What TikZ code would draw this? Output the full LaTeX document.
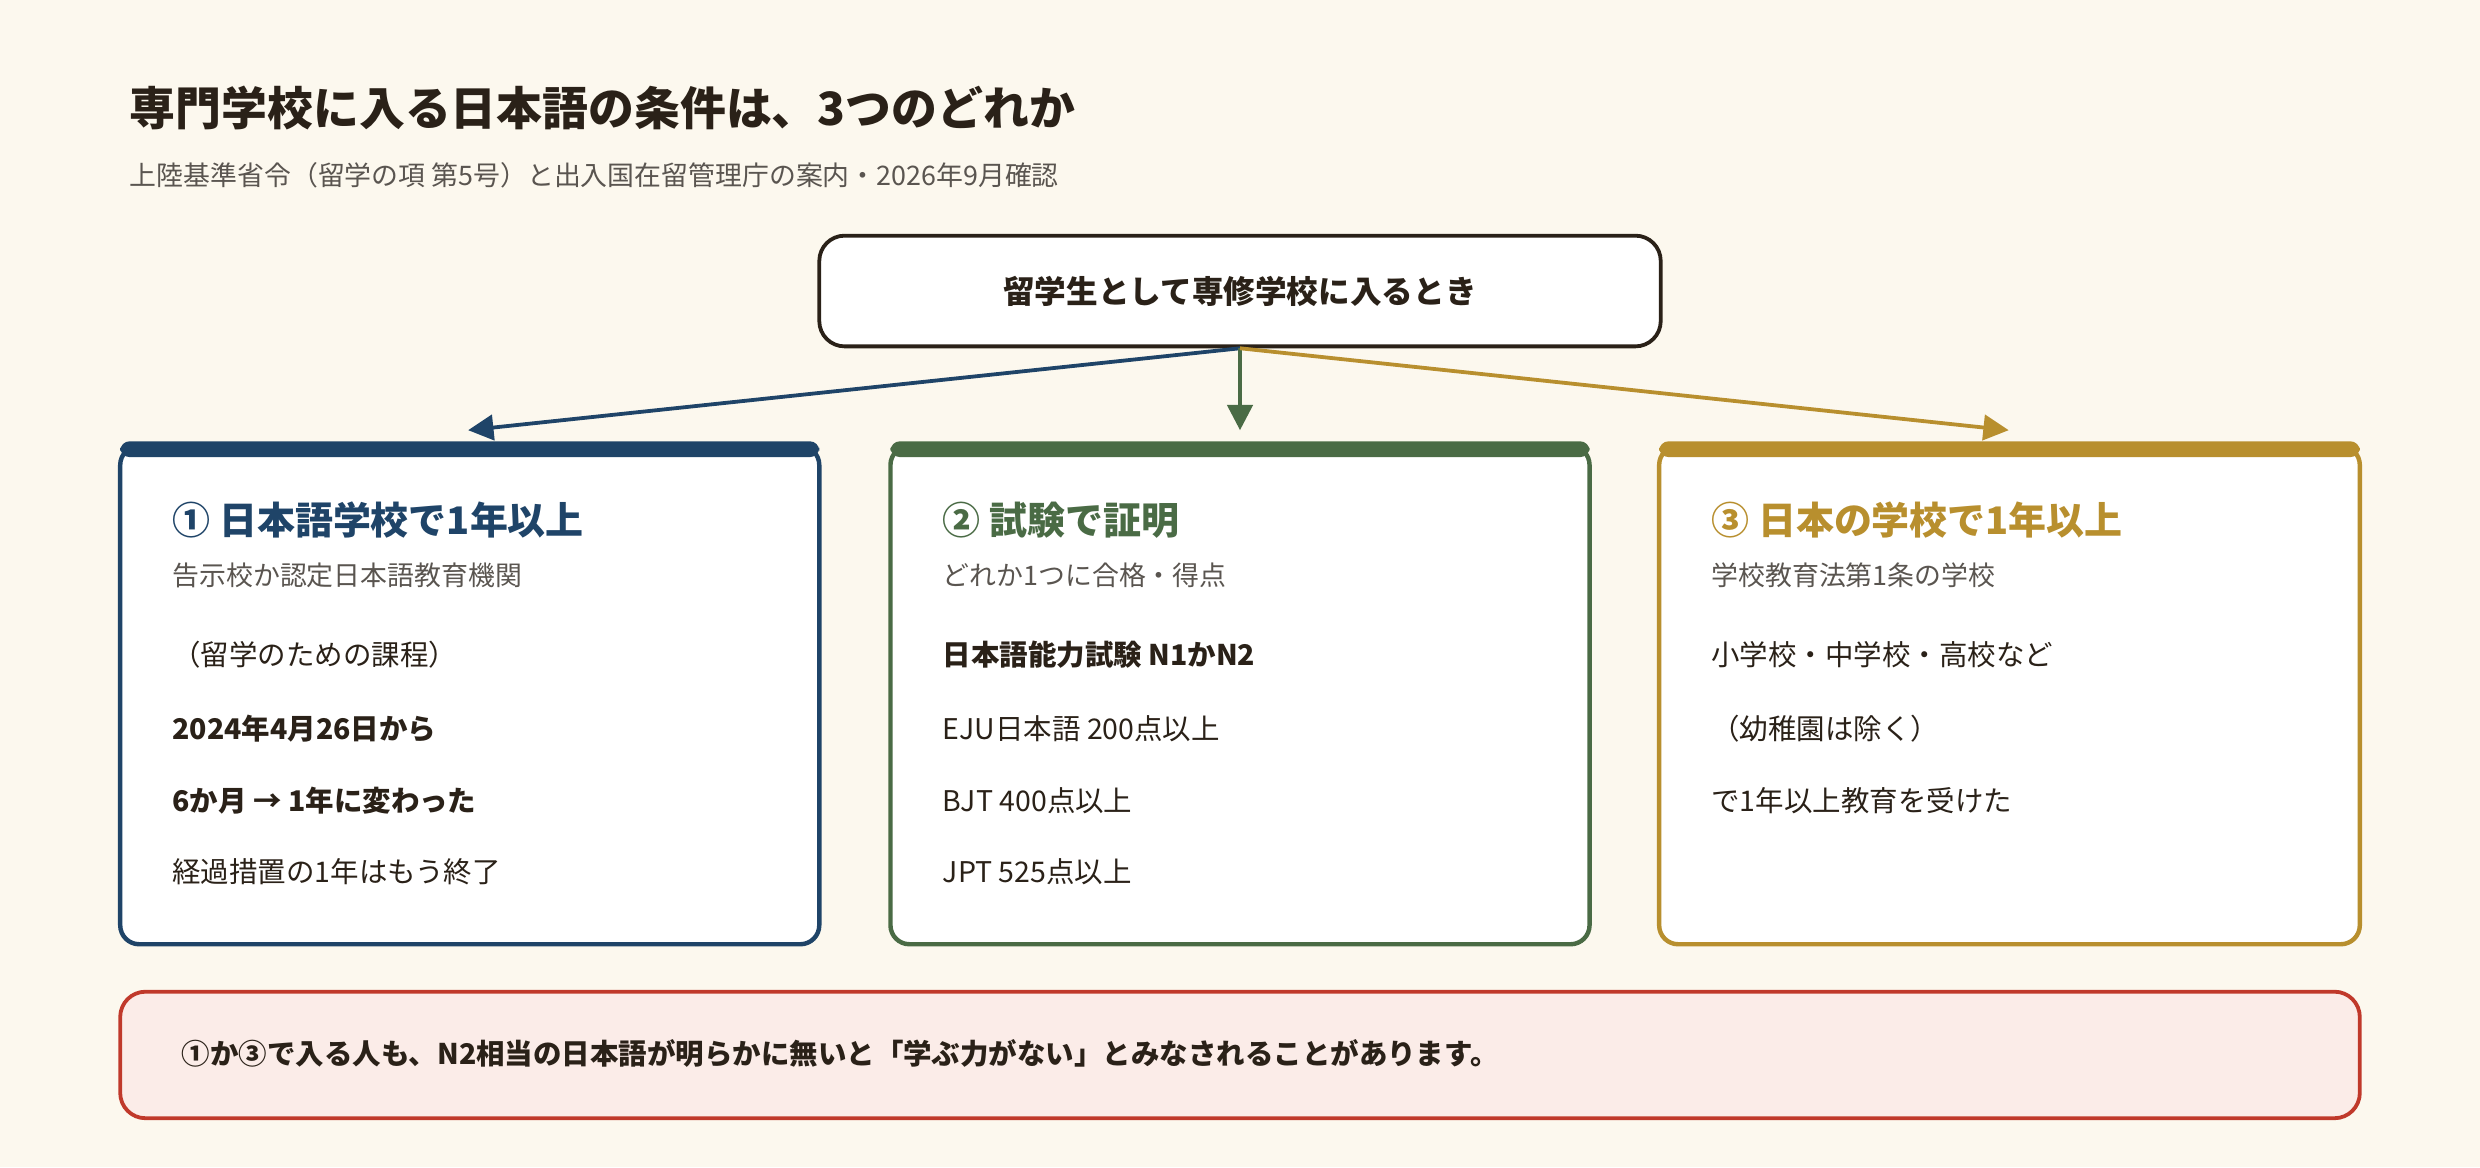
\documentclass[tikz,border=0pt]{standalone}
\usepackage{fontspec}
\setmainfont{Noto Sans CJK JP}
\usetikzlibrary{arrows.meta}
\definecolor{bg}{HTML}{FCF8EE}
\definecolor{cb}{HTML}{1F4468}
\definecolor{cg}{HTML}{4A6B45}
\definecolor{cy}{HTML}{B88F2E}
\definecolor{cr}{HTML}{C0392B}
\definecolor{pk}{HTML}{FBECE8}
\definecolor{tx}{HTML}{2A2118}
\definecolor{gr}{HTML}{5A5550}
\tikzset{
 card/.style={draw=#1,line width=1.4pt,rounded corners=6pt,fill=white},
 bar/.style={fill=#1,rounded corners=3pt},
 head/.style={anchor=west,font=\fontsize{12}{14}\selectfont\bfseries,text=#1},
 sub/.style={anchor=west,font=\fontsize{8.5}{10}\selectfont,text=gr},
 ln/.style={anchor=west,font=\fontsize{9}{11}\selectfont,text=tx},
 arr/.style={draw=#1,line width=1.2pt,-{Triangle[length=8pt,width=8pt]}},
}
\begin{document}
\begin{tikzpicture}[x=0.5pt,y=-0.5pt]
\fill[bg] (0,0) rectangle (1568,738);
\useasboundingbox (0,0) rectangle (1568,738);
\node[anchor=west,font=\fontsize{14.5}{17}\selectfont\bfseries,text=tx] (title) at (75,68) {専門学校に入る日本語の条件は、3つのどれか};
\node[anchor=west,font=\fontsize{8.5}{10}\selectfont,text=gr] (subt) at (75,111) {上陸基準省令（留学の項 第5号）と出入国在留管理庁の案内・2026年9月確認};
\node[draw=tx,line width=1.2pt,rounded corners=8pt,fill=white,minimum width=266pt,minimum height=35pt,font=\fontsize{10}{12}\selectfont\bfseries,text=tx] (top) at (784,184) {留学生として専修学校に入るとき};
\coordinate (t1) at (296,272);
\coordinate (t2) at (784,272);
\coordinate (t3) at (1270,272);
\draw[arr=cb] (top.south) -- (t1);
\draw[arr=cg] (top.south) -- (t2);
\draw[arr=cy] (top.south) -- (t3);
% cards
\draw[card=cb] (76,282) rectangle (518,597);
\fill[bar=cb] (76,279) rectangle (518,289);
\draw[card=cg] (563,282) rectangle (1005,597);
\fill[bar=cg] (563,279) rectangle (1005,289);
\draw[card=cy] (1049,282) rectangle (1492,597);
\fill[bar=cy] (1049,279) rectangle (1492,289);
% card 1
\node[head=cb] (h1) at (102,329) {① 日本語学校で1年以上};
\node[sub] (s1) at (102,364) {告示校か認定日本語教育機関};
\node[ln] (a1) at (102,414) {（留学のための課程）};
\node[ln,font=\fontsize{9}{11}\selectfont\bfseries] (a2) at (102,461) {2024年4月26日から};
\node[ln,font=\fontsize{9}{11}\selectfont\bfseries] (a3) at (102,506) {6か月 → 1年に変わった};
\node[ln] (a4) at (102,551) {経過措置の1年はもう終了};
% card 2
\node[head=cg] (h2) at (589,329) {② 試験で証明};
\node[sub] (s2) at (589,364) {どれか1つに合格・得点};
\node[ln,font=\fontsize{9}{11}\selectfont\bfseries] (b1) at (589,414) {日本語能力試験 N1かN2};
\node[ln] (b2) at (589,461) {EJU日本語 200点以上};
\node[ln] (b3) at (589,506) {BJT 400点以上};
\node[ln] (b4) at (589,551) {JPT 525点以上};
% card 3
\node[head=cy] (h3) at (1075,329) {③ 日本の学校で1年以上};
\node[sub] (s3) at (1075,364) {学校教育法第1条の学校};
\node[ln] (c1) at (1075,414) {小学校・中学校・高校など};
\node[ln] (c2) at (1075,461) {（幼稚園は除く）};
\node[ln] (c3) at (1075,506) {で1年以上教育を受けた};
% note
\draw[draw=cr,line width=1.2pt,fill=pk,rounded corners=8pt] (76,627) rectangle (1492,707);
\node[ln,font=\fontsize{9}{11}\selectfont\bfseries] (note) at (108,666) {①か③で入る人も、N2相当の日本語が明らかに無いと「学ぶ力がない」とみなされることがあります。};
\end{tikzpicture}
\end{document}
